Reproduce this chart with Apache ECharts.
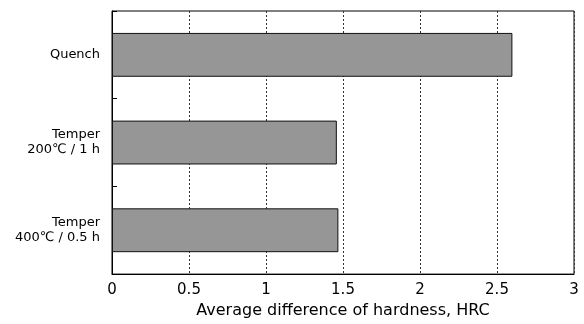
<!DOCTYPE html>
<html>
<head>
<meta charset="utf-8">
<script src="https://cdn.jsdelivr.net/npm/echarts@6/dist/echarts.min.js"></script>
<style>
html,body{margin:0;padding:0;background:#fff;}
#c{width:584px;height:324px;}
</style>
</head>
<body>
<div id="c"></div>
<script>
const categories = ['Quench', 'Temper\n200℃ / 1 h', 'Temper\n400℃ / 0.5 h'];
const values = [2.60, 1.46, 1.47];
const xTicks = [0, 0.5, 1, 1.5, 2, 2.5, 3];
const xTitle = 'Average difference of hardness, HRC';

const font = '"DejaVu Sans", "Noto Sans CJK JP", sans-serif';
const chart = echarts.init(document.getElementById('c'));
chart.setOption({
  animation: false,
  backgroundColor: '#fff',
  grid: {left: 112, right: 10, top: 11, bottom: 49, show: true, borderColor: '#000', borderWidth: 1},
  xAxis: {
    type: 'value', min: xTicks[0], max: xTicks[xTicks.length - 1], interval: 0.5,
    name: xTitle, nameLocation: 'middle', nameGap: 21,
    nameTextStyle: {fontSize: 16, color: '#000', fontFamily: font},
    axisLine: {show: true, lineStyle: {color: '#000', width: 1}},
    axisTick: {show: false},
    axisLabel: {fontSize: 15, color: '#000', fontFamily: font, margin: 9,
      formatter: v => String(v)},
    splitLine: {show: true, lineStyle: {type: [2, 2], color: '#333', width: 1}}
  },
  yAxis: {
    type: 'category', data: categories, inverse: true,
    axisLine: {show: true, lineStyle: {color: '#000', width: 1}},
    axisTick: {show: true, inside: true, length: 5, lineStyle: {color: '#000'}},
    axisLabel: {fontSize: 13, color: '#000', fontFamily: font, margin: 12,
      align: 'right', lineHeight: 15},
    splitLine: {show: false}
  },
  series: [{
    type: 'bar', data: values, barWidth: '50%',
    itemStyle: {color: '#969696', borderColor: '#111', borderWidth: 1}
  }]
});
</script>
</body>
</html>
